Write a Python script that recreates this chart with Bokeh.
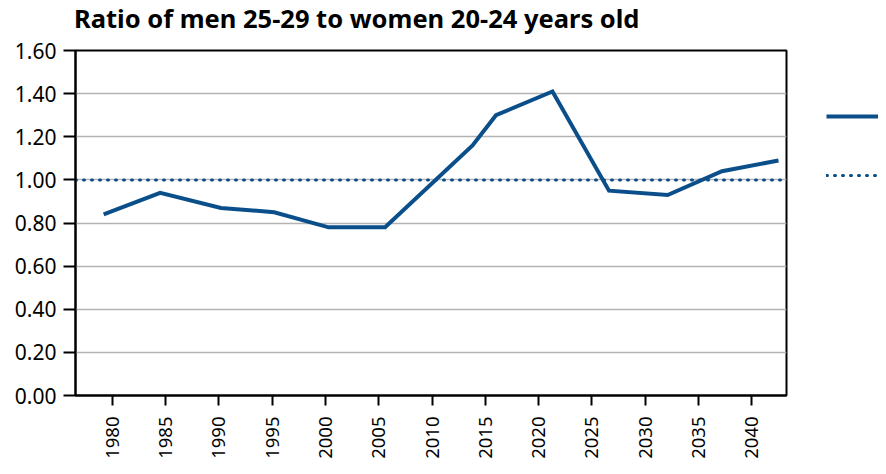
import math
from bokeh.plotting import figure
from bokeh.layouts import row, column
from bokeh.models import Range1d, FixedTicker, NumeralTickFormatter, Legend, LegendItem, Div
from bokeh.embed import file_html
from bokeh.resources import INLINE

title_text = "Ratio of men 25-29 to women 20-24 years old"
years = [1979.2, 1984.5, 1990.2, 1995.2, 2000.3, 2005.6, 2013.8, 2016.0, 2021.3, 2026.6, 2032.1, 2037.2, 2042.5]
ratio = [0.84, 0.94, 0.87, 0.85, 0.78, 0.78, 1.16, 1.30, 1.41, 0.95, 0.93, 1.04, 1.09]
parity_x = [1976.56, 2043.25]
parity_y = [1.0, 1.0]
x_ticks = [1980, 1985, 1990, 1995, 2000, 2005, 2010, 2015, 2020, 2025, 2030, 2035, 2040]
y_ticks = [0.0, 0.2, 0.4, 0.6, 0.8, 1.0, 1.2, 1.4, 1.6]

BLUE = "#0b4f8a"
FONT = "Noto Sans"
H = 432
TOP = 16

title_div = Div(text=title_text, width=780, height=28, margin=(6, 0, 0, 74),
                styles={"font-family": FONT, "font-weight": "bold", "font-size": "25.5px",
                        "line-height": "25.5px", "color": "black", "white-space": "nowrap"})

p = figure(width=790, height=H, output_backend="svg", toolbar_location=None,
           x_range=Range1d(parity_x[0], parity_x[1]), y_range=Range1d(0, 1.6),
           min_border_left=75, min_border_right=4, min_border_top=TOP, min_border_bottom=71)

p.outline_line_color = "black"
p.outline_line_width = 2
p.outline_line_alpha = 1

p.xgrid.grid_line_color = None
p.ygrid.grid_line_color = "#b3b3b3"
p.ygrid.grid_line_width = 1.5
p.ygrid.ticker = FixedTicker(ticks=y_ticks)

for ax in (p.xaxis[0], p.yaxis[0]):
    ax.axis_line_color = "black"
    ax.axis_line_width = 2
    ax.major_tick_line_color = "black"
    ax.major_tick_line_width = 2
    ax.minor_tick_line_color = None
    ax.major_tick_in = 0
    ax.major_label_text_font = FONT
    ax.major_label_text_color = "black"

p.xaxis.ticker = FixedTicker(ticks=x_ticks)
p.xaxis.major_label_orientation = math.pi / 2
p.xaxis.major_label_text_font_size = "18.5px"
p.xaxis.major_tick_out = 10
p.xaxis.major_label_standoff = 11

p.yaxis.ticker = FixedTicker(ticks=y_ticks)
p.yaxis.formatter = NumeralTickFormatter(format="0.00")
p.yaxis.major_label_text_font_size = "21px"
p.yaxis.major_tick_out = 12
p.yaxis.major_label_standoff = 7

line_style = dict(line_color=BLUE, line_width=4)
par_style = dict(line_color=BLUE, line_width=3, line_dash="1 7", line_cap="round")

p.line(years, ratio, line_join="miter", **line_style)
p.line(parity_x, parity_y, **par_style)

# legend panel (labels fall outside the visible area in the original);
# proxy renderers reuse the data but sit outside this panel's ranges
lg = figure(width=88, height=H, output_backend="svg", toolbar_location=None,
            x_range=Range1d(0, 1), y_range=Range1d(0, 1),
            x_axis_location=None, y_axis_location=None,
            min_border_left=0, min_border_right=0, min_border_top=TOP, min_border_bottom=71)
lg.outline_line_color = None
lg.xgrid.grid_line_color = None
lg.ygrid.grid_line_color = None
lr1 = lg.line(years, ratio, **line_style)
lr2 = lg.line(parity_x, parity_y, **par_style)

common = dict(margin=0, padding=0, glyph_width=60, glyph_height=20, label_height=20,
              label_width=0, label_standoff=0, border_line_alpha=0, background_fill_alpha=0)
leg1 = Legend(items=[LegendItem(label="", renderers=[lr1])], location=(36, 269), **common)
leg2 = Legend(items=[LegendItem(label="", renderers=[lr2])], location=(36, 210), **common)
lg.add_layout(leg1, "center")
lg.add_layout(leg2, "center")

layout = column(title_div, row(p, lg))
open("out.html", "w").write(file_html(layout, INLINE))
